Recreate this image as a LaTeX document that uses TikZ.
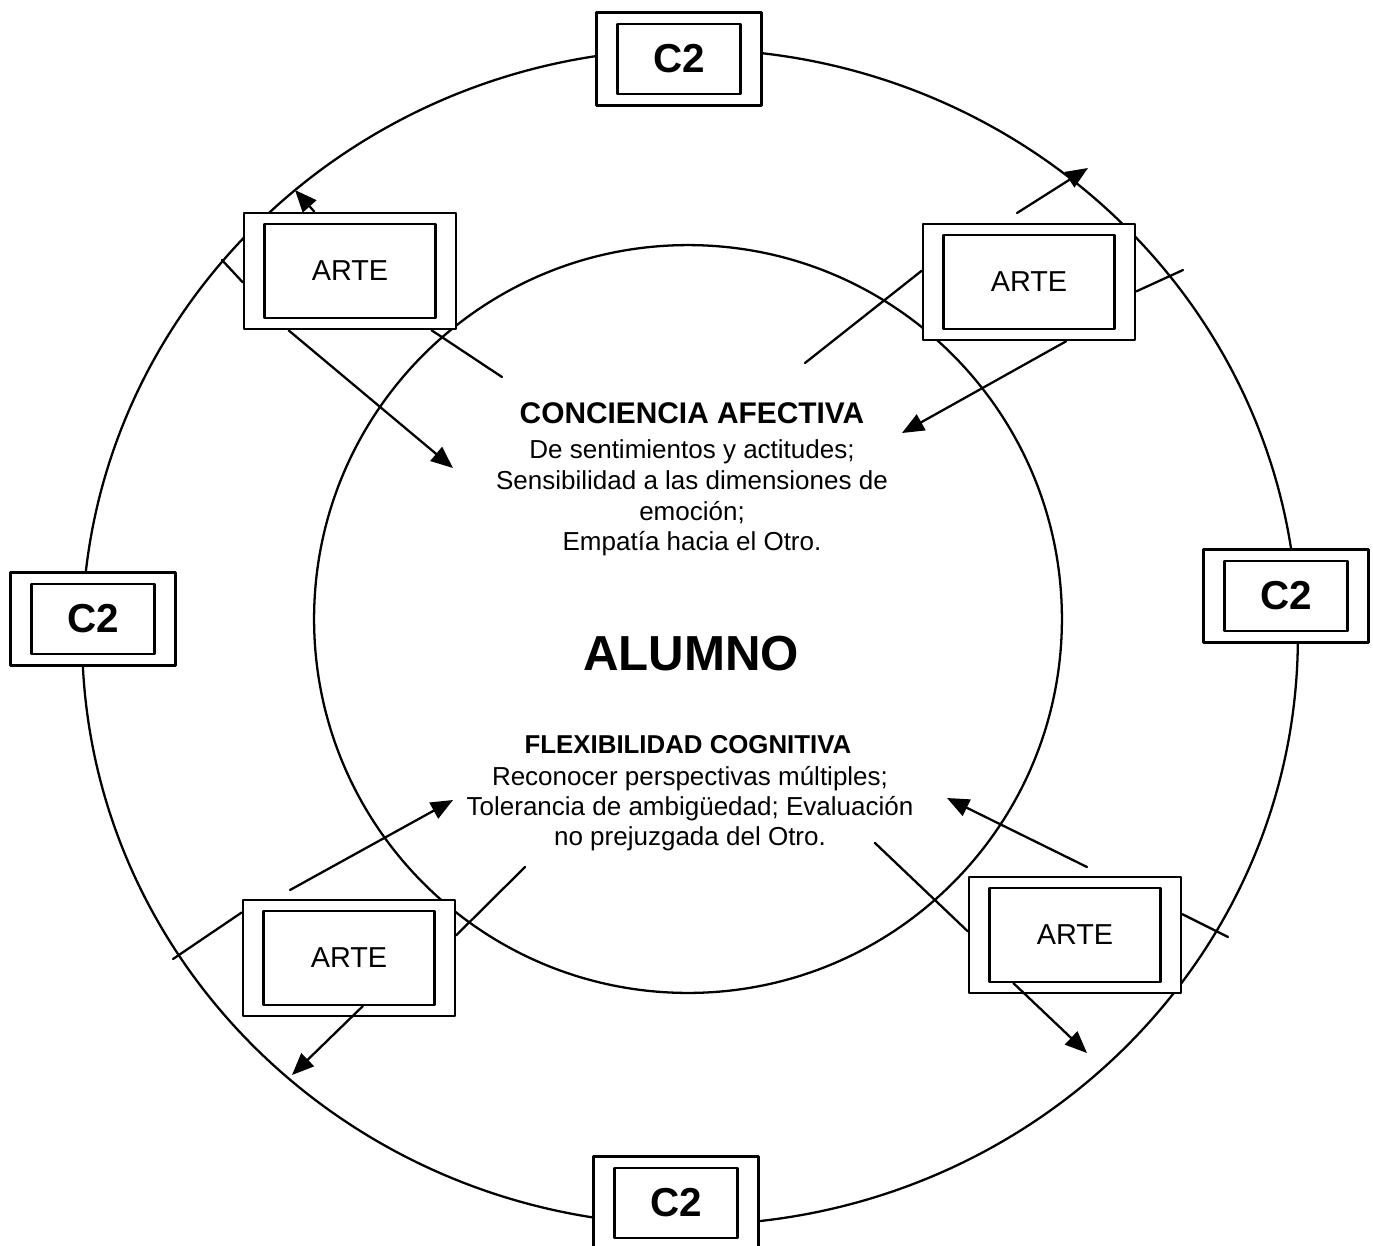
\documentclass[tikz,border=0pt]{standalone}
\usepackage{fontspec}
\setmainfont{Liberation Sans}
\usetikzlibrary{arrows.meta}

\tikzset{
  boxframe/.style={draw,fill=white,line width=1.5pt,inner sep=0pt},
  arteout/.style={boxframe,minimum width=4.24cm,minimum height=2.32cm},
  artein/.style={draw,line width=1.3pt,inner sep=0pt,minimum width=3.42cm,minimum height=1.88cm,
    font=\fontsize{16.4}{20}\selectfont},
  cout/.style={boxframe,minimum width=3.3cm,minimum height=1.86cm},
  cin/.style={draw,line width=1.3pt,inner sep=0pt,minimum width=2.46cm,minimum height=1.4cm,
    font=\bfseries\fontsize{23}{28}\selectfont},
  conn/.style={line width=1.3pt},
  arr/.style={conn,-{Triangle[length=0.44cm,width=0.36cm]}},
  body/.style={anchor=base,inner sep=0pt,font=\fontsize{14.8}{18}\selectfont},
  headA/.style={anchor=base,inner sep=0pt,font=\bfseries\fontsize{17}{20}\selectfont},
  headB/.style={anchor=base,inner sep=0pt,font=\bfseries\fontsize{14.7}{18}\selectfont},
}

\begin{document}
\begin{tikzpicture}[x=0.02cm,y=-0.02cm,line cap=round,line join=round]
  \useasboundingbox (0,0) rectangle (1373,1245);
  \clip (0,0) rectangle (1373,1245);

  % the two rings
  \draw[line width=1.3pt] (690,637) ellipse [x radius=12.16cm, y radius=11.76cm];
  \draw[line width=1.3pt] (688,619) circle [radius=7.48cm];

  % C2 boxes on the outer ring
  \node[cout] (c1) at (679,59) {};
  \node[cin]  (c1i) at (c1) {C2};
  \node[cout] (c2) at (93,619) {};
  \node[cin]  (c2i) at (c2) {C2};
  \node[cout] (c3) at (1286,596) {};
  \node[cin]  (c3i) at (c3) {C2};
  \node[cout] (c4) at (676,1203) {};
  \node[cin]  (c4i) at (c4) {C2};

  % ARTE boxes
  \node[arteout] (a1) at (350,271) {};
  \node[artein]  (a1i) at (a1) {ARTE};
  \node[arteout] (a2) at (1029,282) {};
  \node[artein]  (a2i) at (a2) {ARTE};
  \node[arteout] (a3) at (349,958) {};
  \node[artein]  (a3i) at (a3) {ARTE};
  \node[arteout] (a4) at (1075,935) {};
  \node[artein]  (a4i) at (a4) {ARTE};

  % centre texts
  \node[headA] (ca) at (692,423) {CONCIENCIA AFECTIVA};
  \node[body] (ca1) at (692,458) {De sentimientos y actitudes;};
  \node[body] (ca2) at (692,489) {Sensibilidad a las dimensiones de};
  \node[body] (ca3) at (692,520) {emoción;};
  \node[body] (ca4) at (692,550) {Empatía hacia el Otro.};
  \node[anchor=base,inner sep=0pt,font=\bfseries\fontsize{28}{32}\selectfont] (al) at (691,670) {ALUMNO};
  \node[headB] (fc) at (688,753) {FLEXIBILIDAD COGNITIVA};
  \node[body] (fc1) at (690,785) {Reconocer perspectivas múltiples;};
  \node[body] (fc2) at (690,815) {Tolerancia de ambigüedad; Evaluación};
  \node[body] (fc3) at (690,845) {no prejuzgada del Otro.};

  % free ends
  \coordinate (p11) at (295,190);
  \coordinate (p12) at (222,260);
  \coordinate (p13) at (453,468);
  \coordinate (p14) at (502,377);
  \coordinate (p21s) at (1017,213);
  \coordinate (p21) at (1088,168);
  \coordinate (p22) at (805,363);
  \coordinate (p23) at (1183,270);
  \coordinate (p24) at (902,433);
  \coordinate (p31s) at (290,890);
  \coordinate (p31) at (453,800);
  \coordinate (p32) at (173,959);
  \coordinate (p33) at (525,867);
  \coordinate (p34) at (292,1075);
  \coordinate (p41s) at (1087,867);
  \coordinate (p41) at (947,798);
  \coordinate (p42) at (875,843);
  \coordinate (p43) at (1228,937);
  \coordinate (p44) at (1087,1053);

  % connectors, top left
  \draw[arr]  (a1.121) -- (p11);
  \draw[conn] (p12) -- (a1.-174);
  \draw[arr]  (a1.-136) -- (p13);
  \draw[conn] (a1.-36) -- (p14);
  % top right
  \draw[arr]  (p21s) -- (p21);
  \draw[conn] (a2.174.6) -- (p22);
  \draw[conn] (a2.-5.9) -- (p23);
  \draw[arr]  (a2.-58.5) -- (p24);
  % bottom left
  \draw[arr]  (p31s) -- (p31);
  \draw[conn] (p32) -- (a3.157.4);
  \draw[conn] (a3.12.3) -- (p33);
  \draw[arr]  (a3i.-74.5) -- (p34);
  % bottom right
  \draw[arr]  (p41s) -- (p41);
  \draw[conn] (p42) -- (a4.178.9);
  \draw[conn] (a4.11.2) -- (p43);
  \draw[arr]  (a4i.-142.2) -- (p44);
\end{tikzpicture}
\end{document}
